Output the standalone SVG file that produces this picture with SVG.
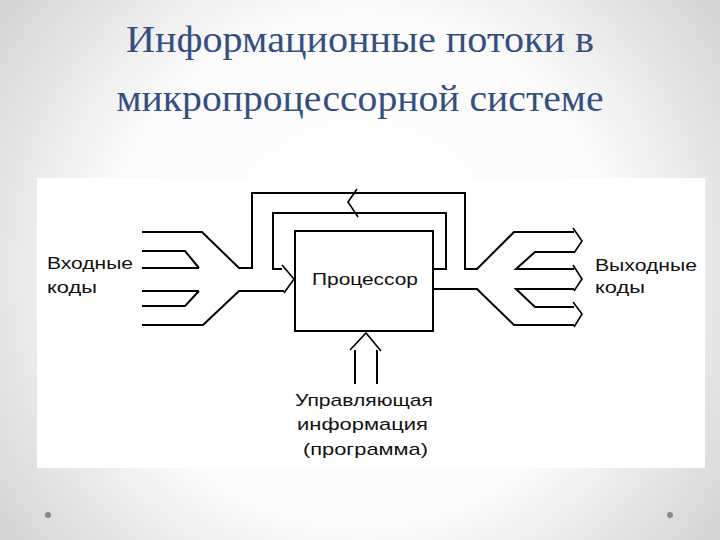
<svg xmlns="http://www.w3.org/2000/svg" width="720" height="540" viewBox="0 0 720 540">
<defs>
<radialGradient id="bg" cx="360" cy="270" r="470" gradientUnits="userSpaceOnUse">
<stop offset="0" stop-color="#ffffff"/>
<stop offset="0.55" stop-color="#fbfbfb"/>
<stop offset="1" stop-color="#cfcfcf"/>
</radialGradient>
<style>
.title{font-family:"Liberation Serif","Times New Roman",serif;font-size:37px;fill:#344f80;text-anchor:middle}
.lbl{font-family:"Liberation Sans",Arial,sans-serif;font-size:17px;fill:#111}
.ln{fill:none;stroke:#000;stroke-width:2;stroke-linejoin:miter}
.ch{fill:none;stroke:#000;stroke-width:1.6}
</style>
</defs>
<rect width="720" height="540" fill="url(#bg)"/>
<g id="title">
<text class="title" x="360" y="52" textLength="468" lengthAdjust="spacingAndGlyphs">Информационные потоки в</text>
<text class="title" x="360" y="111" textLength="487" lengthAdjust="spacingAndGlyphs">микропроцессорной системе</text>
</g>
<rect x="37" y="178" width="668" height="290" fill="#ffffff"/>
<g id="connectors">
<path class="ln" d="M142,232 H202 L239,268 H252 V193 H465 V269 H477 L514,232 H574"/>
<path class="ln" d="M142,251 H185 L199,268 M142,268 H199"/>
<path class="ln" d="M142,291 H199 M142,306 H185 L199,291"/>
<path class="ln" d="M142,325 H203 L239,291 H284"/>
<path class="ln" d="M433,269 H446 V213 H273 V269 H282"/>
<path class="ch" d="M282,265 L294,279 L284,293"/>
<path class="ch" d="M357,189 L348,202 L358,217"/>
<path class="ln" d="M433,289 H477 L514,325 H574"/>
<path class="ln" d="M574,252 H535 L516,269 H574"/>
<path class="ln" d="M574,289 H516 L535,307 H574"/>
<path class="ch" d="M573,228 L582,241 L574,253"/>
<path class="ch" d="M573,265 L582,279 L574,291"/>
<path class="ch" d="M573,302 L582,314 L574,327"/>
<path class="ln" d="M355,350 V384 M377,350 V384"/>
<path class="ch" d="M350,350 L366,333 L381,351"/>
</g>
<g id="processor">
<rect x="295" y="231" width="138" height="100" fill="none" stroke="#000" stroke-width="2"/>
<text class="lbl" x="312" y="285" textLength="106" lengthAdjust="spacingAndGlyphs">Процессор</text>
</g>
<g id="inputs">
<text class="lbl" x="47" y="269" textLength="86" lengthAdjust="spacingAndGlyphs">Входные</text>
<text class="lbl" x="47" y="293" textLength="50" lengthAdjust="spacingAndGlyphs">коды</text>
</g>
<g id="outputs">
<text class="lbl" x="595" y="271" textLength="102" lengthAdjust="spacingAndGlyphs">Выходные</text>
<text class="lbl" x="595" y="293" textLength="50" lengthAdjust="spacingAndGlyphs">коды</text>
</g>
<g id="control">
<text class="lbl" x="295" y="406" textLength="138" lengthAdjust="spacingAndGlyphs">Управляющая</text>
<text class="lbl" x="297" y="430" textLength="131" lengthAdjust="spacingAndGlyphs">информация</text>
<text class="lbl" x="303" y="455" textLength="125" lengthAdjust="spacingAndGlyphs">(программа)</text>
</g>
<circle cx="48" cy="515" r="3" fill="#8a8a8a"/>
<circle cx="670" cy="515" r="3" fill="#8a8a8a"/>
</svg>
